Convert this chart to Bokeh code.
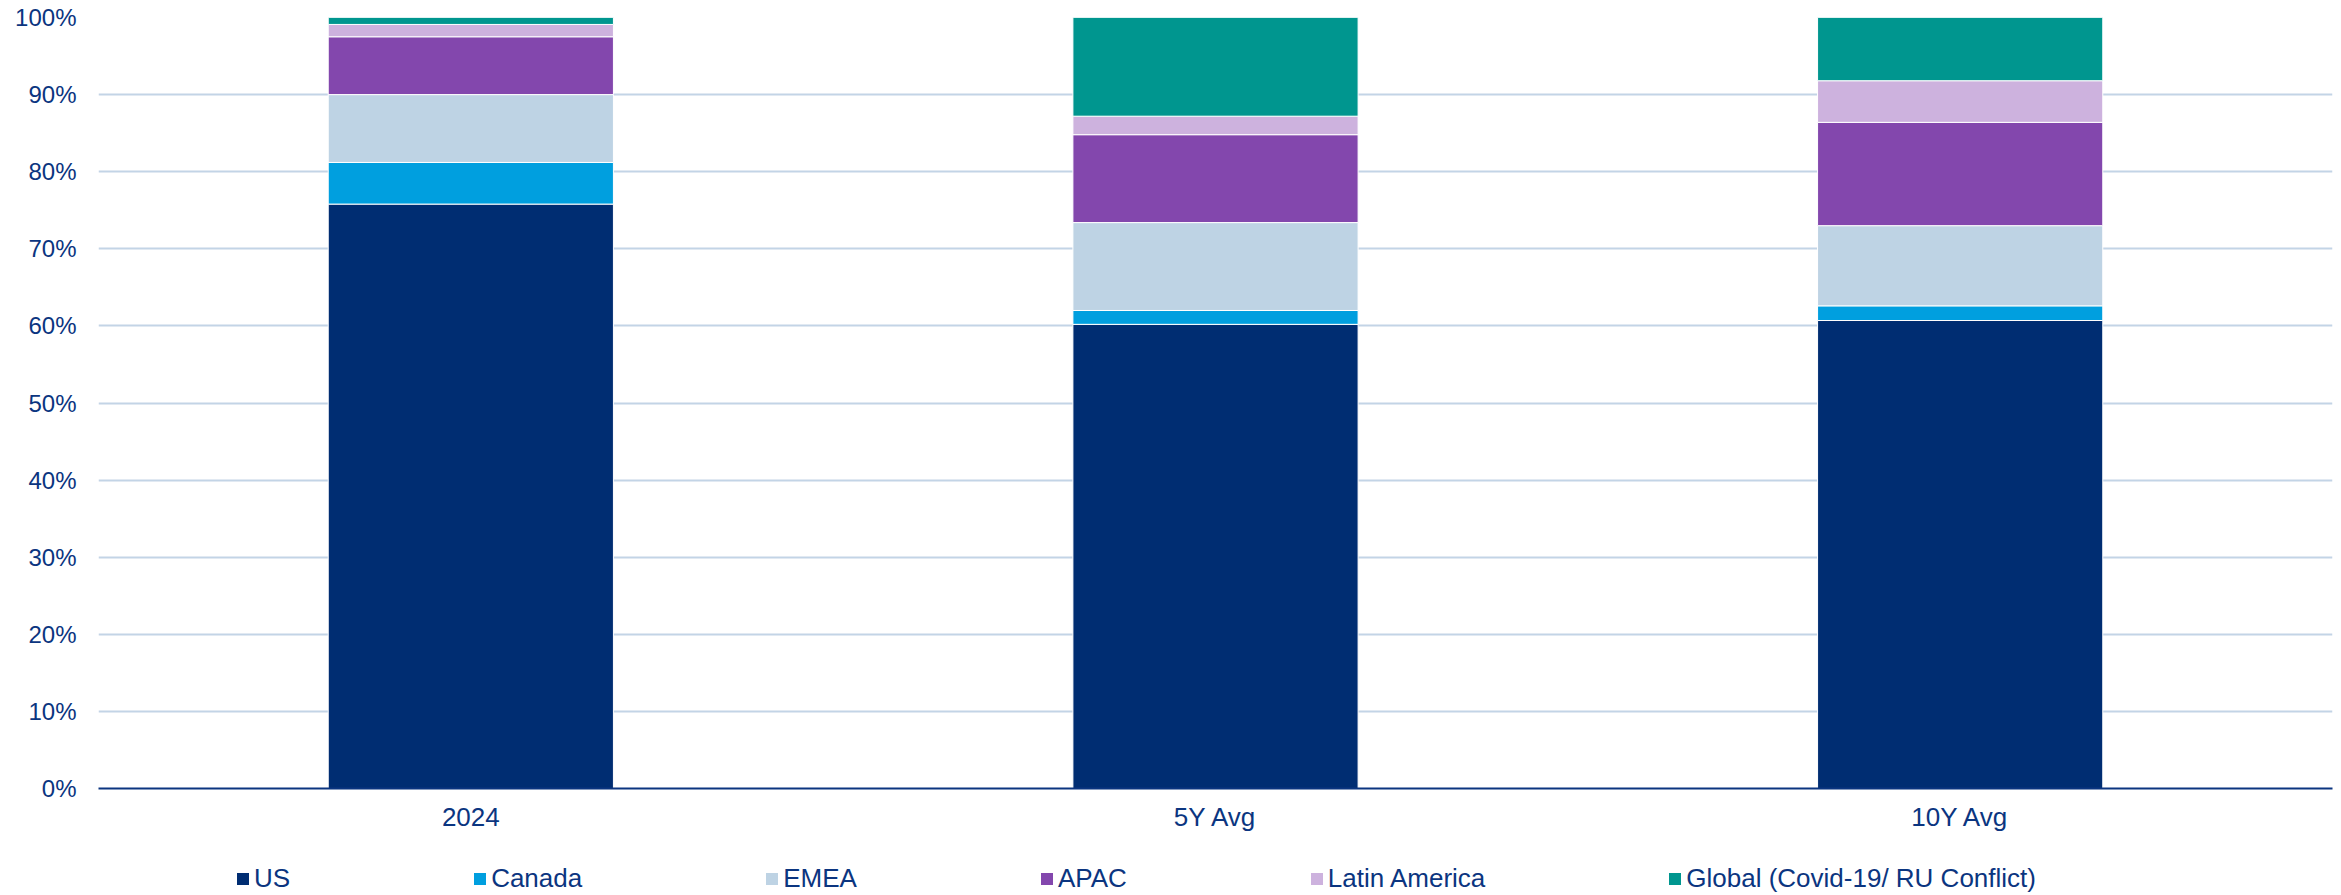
from bokeh.plotting import figure
from bokeh.layouts import column
from bokeh.models import (FactorRange, Range1d, Legend, LegendItem,
                          PrintfTickFormatter, FixedTicker, ColumnDataSource)
from bokeh.embed import file_html
from bokeh.resources import INLINE

categories = ["2024", "5Y Avg", "10Y Avg"]
regions = ["US", "Canada", "EMEA", "APAC", "Latin America",
           "Global (Covid-19/ RU Conflict)"]
us = [75.8, 60.2, 60.7]
canada = [5.4, 1.8, 1.9]
emea = [8.8, 11.4, 10.4]
apac = [7.5, 11.4, 13.4]
latam = [1.6, 2.4, 5.4]
global_ = [0.9, 12.8, 8.2]
y_ticks = [0, 10, 20, 30, 40, 50, 60, 70, 80, 90, 100]

colors = ["#002D72", "#009FDF", "#BED3E4", "#8347AD", "#CDB2DE", "#00968F"]
keys = ["us", "canada", "emea", "apac", "latam", "global"]
TEXT = "#0B3580"
FONT = "Liberation Sans"

source = ColumnDataSource(data=dict(cat=categories, us=us, canada=canada, emea=emea,
                                    apac=apac, latam=latam, **{"global": global_}))

p = figure(x_range=FactorRange(factors=categories, range_padding=0),
           y_range=Range1d(0, 100),
           width=2341, height=850,
           min_border_left=98, min_border_right=9, min_border_top=17, min_border_bottom=62,
           output_backend="svg", toolbar_location=None)

renderers = p.vbar_stack(keys, x="cat", width=0.383, color=colors, source=source,
                         line_color="white", line_width=1)

p.outline_line_color = None
p.xgrid.grid_line_color = None
p.ygrid.grid_line_color = "#C3D4E6"
p.ygrid.grid_line_width = 2

p.yaxis.ticker = FixedTicker(ticks=y_ticks)
p.yaxis.formatter = PrintfTickFormatter(format="%d%%")
p.yaxis.axis_line_color = None
p.yaxis.major_tick_line_color = None
p.yaxis.minor_tick_line_color = None
p.yaxis.major_tick_out = 0
p.yaxis.major_tick_in = 0
p.yaxis.major_label_standoff = 22
p.yaxis.major_label_text_font = FONT
p.yaxis.major_label_text_font_size = "24px"
p.yaxis.major_label_text_color = TEXT

p.xaxis.axis_line_color = "#0B3580"
p.xaxis.axis_line_width = 2
p.xaxis.major_tick_line_color = None
p.xaxis.major_tick_out = 0
p.xaxis.major_tick_in = 0
p.xaxis.major_label_standoff = 13
p.xaxis.major_label_text_font = FONT
p.xaxis.major_label_text_font_size = "26px"
p.xaxis.major_label_text_color = TEXT

# legend strip below the chart (swatch glyphs sit outside the visible range)
lf = figure(x_range=Range1d(0, 1), y_range=Range1d(0, 1), width=2341, height=45,
            min_border=0, output_backend="svg", toolbar_location=None)
lf.axis.visible = False
lf.grid.visible = False
lf.outline_line_color = None
swatches = []
for c in colors:
    src = ColumnDataSource(data=dict(x=[-10.0], top=[-10.0]))
    swatches.append(lf.vbar(x="x", top="top", bottom=-11.0, width=0.1, source=src,
                            fill_color=c, line_color=None))
items = [LegendItem(label=name, renderers=[r]) for name, r in zip(regions, swatches)]
legend = Legend(items=items, orientation="horizontal", location=(137, 1),
                glyph_width=15, glyph_height=15, label_standoff=4, spacing=182,
                padding=0, margin=0, border_line_color=None, background_fill_alpha=0,
                label_text_font=FONT, label_text_font_size="26px",
                label_text_color=TEXT)
lf.add_layout(legend, "center")

layout = column(p, lf, spacing=0)
open("out.html", "w").write(file_html(layout, INLINE))
